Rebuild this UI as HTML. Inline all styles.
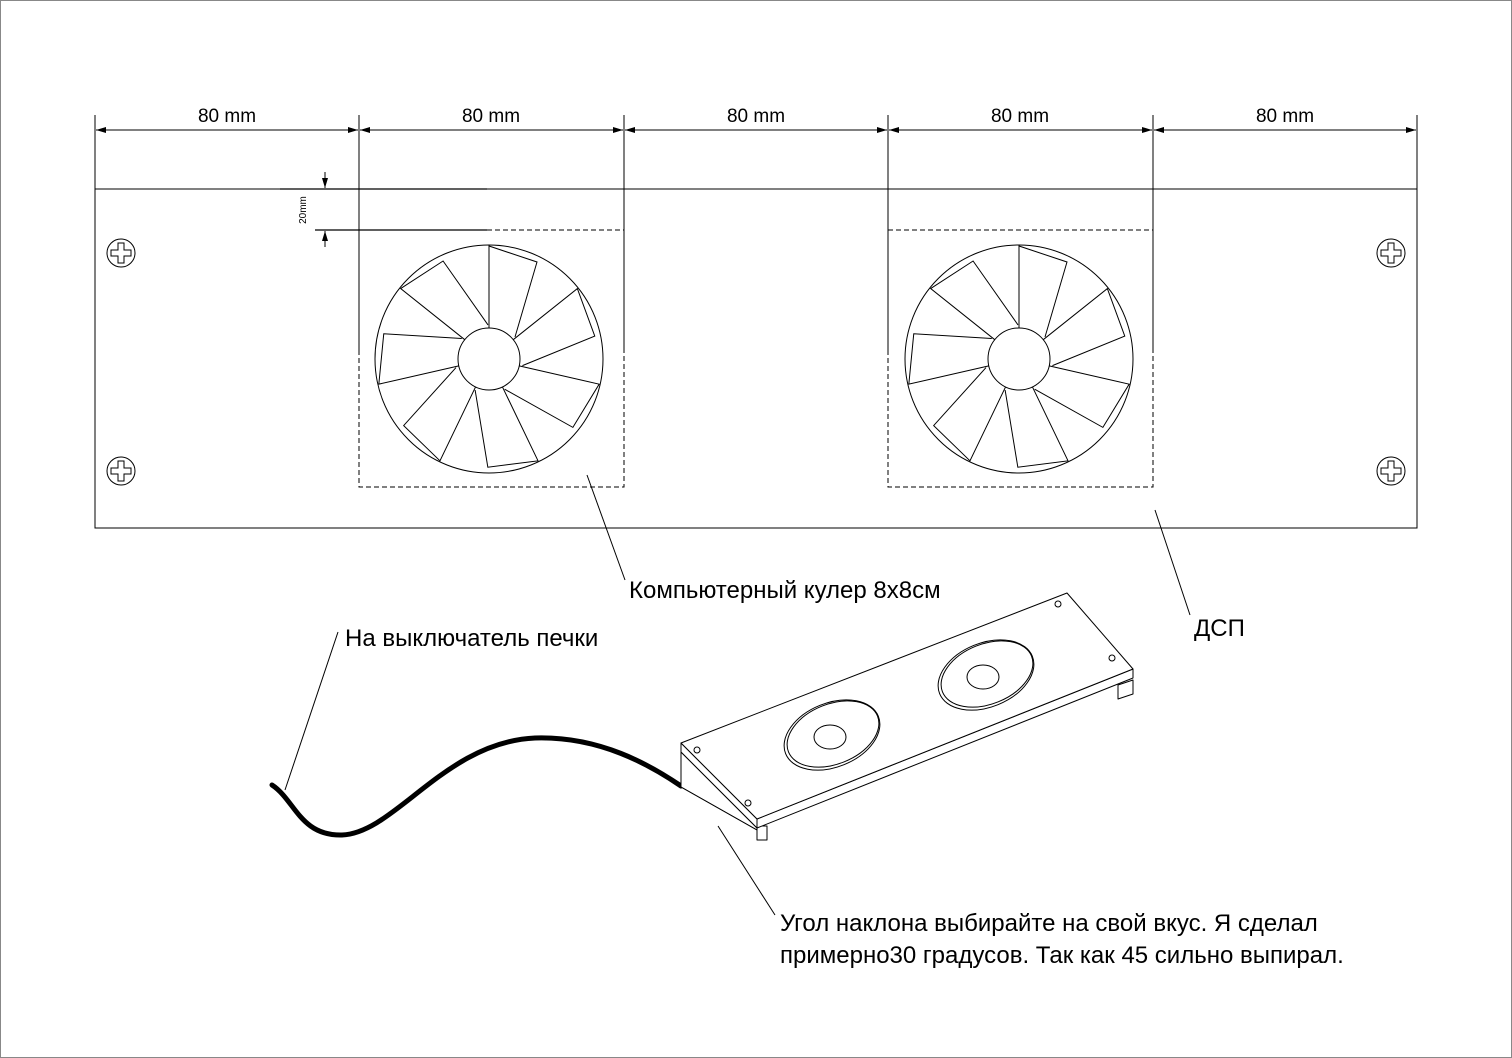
<!DOCTYPE html>
<html><head><meta charset="utf-8"><style>
html,body{margin:0;padding:0;background:#fff}
svg{display:block}
text{font-family:"Liberation Sans",Arial,sans-serif;fill:#000}
</style></head><body>
<svg width="1512" height="1058" viewBox="0 0 1512 1058" xmlns="http://www.w3.org/2000/svg">
<defs>
<marker id="ar" markerWidth="10" markerHeight="6" refX="10" refY="3" orient="auto-start-reverse" markerUnits="userSpaceOnUse"><path d="M0,0 L10,3 L0,6 z" fill="#000"/></marker>
<g id="screw"><circle r="14" fill="none" stroke="#000" stroke-width="1"/><path d="M-3,-10 L3,-10 L3,-3 L10,-3 L10,3 L3,3 L3,10 L-3,10 L-3,3 L-10,3 L-10,-3 L-3,-3 Z" fill="none" stroke="#000" stroke-width="1"/></g>
<path id="blade" d="M0,-31 L0,-113 L48,-97 L26,-22" fill="none" stroke="#000" stroke-width="1"/>
<g id="fan">
<circle r="114" fill="none" stroke="#000"/>
<circle r="31" fill="#fff" stroke="#000"/>
<use href="#blade"/>
<use href="#blade" transform="rotate(51.43)"/>
<use href="#blade" transform="rotate(102.86)"/>
<use href="#blade" transform="rotate(154.29)"/>
<use href="#blade" transform="rotate(205.71)"/>
<use href="#blade" transform="rotate(257.14)"/>
<use href="#blade" transform="rotate(308.57)"/>
</g>
</defs>
<rect x="0.5" y="0.5" width="1511" height="1057" fill="none" stroke="#888"/>
<rect x="95" y="189" width="1322" height="339" fill="none" stroke="#000" stroke-width="1"/>
<g stroke="#000" stroke-width="1">
<line x1="95" y1="115" x2="95" y2="350"/>
<line x1="359" y1="115" x2="359" y2="350"/>
<line x1="624" y1="115" x2="624" y2="350"/>
<line x1="888" y1="115" x2="888" y2="350"/>
<line x1="1153" y1="115" x2="1153" y2="350"/>
<line x1="1417" y1="115" x2="1417" y2="350"/>
</g>
<g stroke="#000" stroke-width="1" marker-start="url(#ar)" marker-end="url(#ar)">
<line x1="96" y1="130" x2="358" y2="130"/>
<line x1="360" y1="130" x2="623" y2="130"/>
<line x1="625" y1="130" x2="887" y2="130"/>
<line x1="889" y1="130" x2="1152" y2="130"/>
<line x1="1154" y1="130" x2="1416" y2="130"/>
</g>
<g font-size="19" text-anchor="middle">
<text x="227" y="122">80 mm</text><text x="491" y="122">80 mm</text><text x="756" y="122">80 mm</text><text x="1020" y="122">80 mm</text><text x="1285" y="122">80 mm</text>
</g>
<line x1="280" y1="189" x2="487" y2="189" stroke="#000" stroke-width="1.3"/>
<line x1="315" y1="230" x2="487" y2="230" stroke="#000" stroke-width="1.3"/>
<line x1="325" y1="172" x2="325" y2="188" stroke="#000" marker-end="url(#ar)"/>
<line x1="325" y1="247" x2="325" y2="231" stroke="#000" marker-end="url(#ar)"/>
<text x="306" y="210" font-size="10" text-anchor="middle" transform="rotate(-90 306 210)">20mm</text>
<g fill="none" stroke="#000" stroke-dasharray="5,3">
<path d="M487,230 L624,230 M359,350 L359,487 L624,487 L624,350"/>
<path d="M888,230 L1153,230 M888,350 L888,487 L1153,487 L1153,350"/>
</g>
<use href="#fan" transform="translate(489,359)"/>
<use href="#fan" transform="translate(1019,359)"/>
<use href="#screw" transform="translate(121,253)"/>
<use href="#screw" transform="translate(121,471)"/>
<use href="#screw" transform="translate(1391,253)"/>
<use href="#screw" transform="translate(1391,471)"/>
<g stroke="#000" stroke-width="1">
<line x1="587" y1="475" x2="625" y2="580"/>
<line x1="1155" y1="510" x2="1190" y2="615"/>
<line x1="338" y1="632" x2="285" y2="790"/>
<line x1="718" y1="826" x2="775" y2="915"/>
</g>
<g font-size="24">
<text x="629" y="598">Компьютерный кулер 8x8см</text>
<text x="1194" y="636">ДСП</text>
<text x="345" y="646">На выключатель печки</text>
<text x="780" y="931">Угол наклона выбирайте на свой вкус. Я сделал</text>
<text x="780" y="963">примерно30 градусов. Так как 45 сильно выпирал.</text>
</g>
<path d="M272,785 C295,800 300,836 342,835 C395,833 445,742 535,738 C600,736 650,765 681,786" fill="none" stroke="#000" stroke-width="5" stroke-linecap="round"/>
<g fill="#fff" stroke="#000" stroke-width="1" stroke-linejoin="round">
<rect x="757" y="826" width="10" height="14"/>
<path d="M1118,685 L1133,680 L1133,694 L1118,699 Z"/>
<path d="M681,752 L681,787 L757,830 L757,828 Z"/>
<path d="M681,743 L757,819 L757,828 L681,752 Z"/>
<path d="M757,819 L1133,669 L1133,678 L757,828 Z"/>
<path d="M681,743 L1067,593 L1133,669 L757,819 Z"/>
<line x1="681" y1="752" x2="681" y2="787"/>
<line x1="681" y1="787" x2="757" y2="830"/>
<ellipse cx="832" cy="735" rx="50" ry="32" transform="rotate(-22 832 735)"/>
<ellipse cx="833" cy="734" rx="48" ry="30" transform="rotate(-22 833 734)"/>
<ellipse cx="830" cy="737" rx="16" ry="12"/>
<ellipse cx="986" cy="675" rx="50" ry="32" transform="rotate(-22 986 675)"/>
<ellipse cx="987" cy="674" rx="48" ry="30" transform="rotate(-22 987 674)"/>
<ellipse cx="983" cy="677" rx="16" ry="12"/>
<circle cx="697" cy="750" r="3"/><circle cx="748" cy="803" r="3"/>
<circle cx="1058" cy="604" r="3"/><circle cx="1112" cy="658" r="3"/>
</g>
</svg>
</body></html>
